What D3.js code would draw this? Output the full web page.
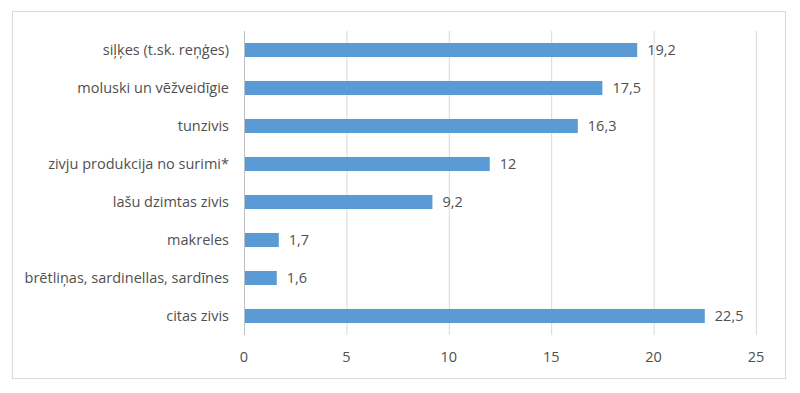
<!DOCTYPE html>
<html>
<head>
<meta charset="utf-8">
<script src="https://cdn.jsdelivr.net/npm/d3@7"></script>
<style>
  body { margin: 0; background: #fff; }
  text { font-family: "Open Sans", "Noto Sans", sans-serif; fill: #505050; }
</style>
</head>
<body>
<svg id="canvas" width="800" height="393"></svg>
<script>
let categories = ["siļķes (t.sk. reņģes)", "moluski un vēžveidīgie", "tunzivis",
  "zivju produkcija no surimi*", "lašu dzimtas zivis", "makreles",
  "brētliņas, sardinellas, sardīnes", "citas zivis"]
let values = [19.2, 17.5, 16.3, 12, 9.2, 1.7, 1.6, 22.5]
let ticks = [0, 5, 10, 15, 20, 25]

let canvas = d3.select('#canvas')

// chart border
canvas.append('rect')
  .attr('x', 12.5).attr('y', 11.5)
  .attr('width', 773).attr('height', 367)
  .attr('fill', 'none')
  .attr('stroke', '#d9d9d9')

let x = d3.scaleLinear().domain([0, 25]).range([244, 756])
let y = d3.scaleBand().domain(categories).range([31, 335]).paddingInner(0.63).paddingOuter(0.315)

let fmt = v => String(v).replace('.', ',')

// gridlines
canvas.append('g')
  .selectAll('line')
  .data(ticks)
  .enter()
  .append('line')
  .attr('x1', d => x(d) + 0.5).attr('x2', d => x(d) + 0.5)
  .attr('y1', 31).attr('y2', 335)
  .attr('stroke', d => d === 0 ? '#bfbfbf' : '#d9d9d9')
  .attr('stroke-width', 1)

// tick labels
canvas.append('g')
  .selectAll('text')
  .data(ticks)
  .enter()
  .append('text')
  .attr('x', d => x(d))
  .attr('y', 357)
  .attr('dy', '0.35em')
  .attr('text-anchor', 'middle')
  .attr('font-size', 14.5)
  .text(d => d)

// bars
canvas.append('g')
  .selectAll('rect')
  .data(values)
  .enter()
  .append('rect')
  .attr('x', x(0) + 1)
  .attr('y', (d, i) => y(categories[i]))
  .attr('width', d => x(d) - x(0) - 1)
  .attr('height', y.bandwidth())
  .attr('fill', '#5b9bd5')

// value labels
canvas.append('g')
  .selectAll('text')
  .data(values)
  .enter()
  .append('text')
  .attr('x', d => x(d) + 10)
  .attr('y', (d, i) => y(categories[i]) + y.bandwidth() / 2)
  .attr('dy', '0.35em')
  .attr('font-size', 14.5)
  .text(d => fmt(d))

// category labels
canvas.append('g')
  .selectAll('text')
  .data(categories)
  .enter()
  .append('text')
  .attr('x', 229)
  .attr('y', d => y(d) + y.bandwidth() / 2)
  .attr('dy', '0.35em')
  .attr('text-anchor', 'end')
  .attr('font-size', 14.5)
  .text(d => d)
</script>
</body>
</html>
